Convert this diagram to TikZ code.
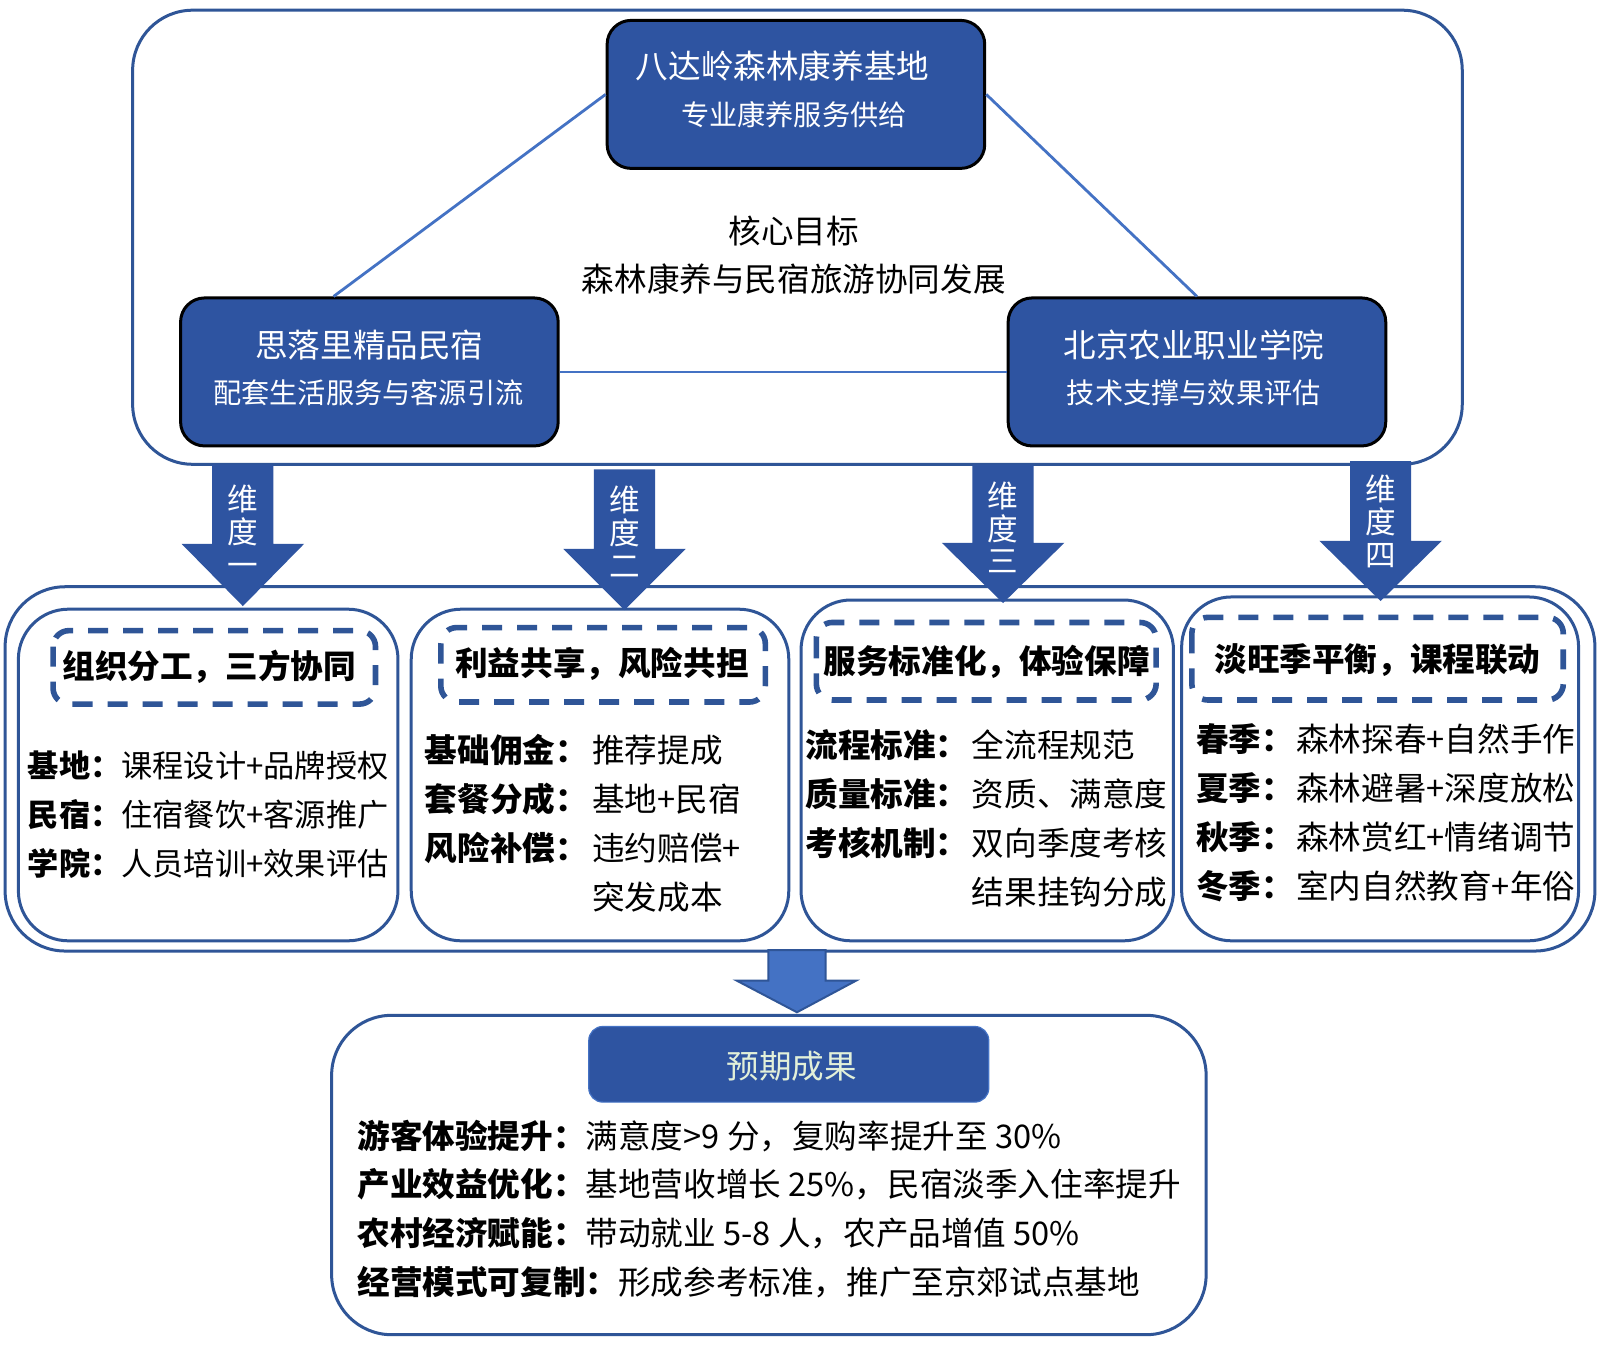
\documentclass[tikz,border=0pt]{standalone}
\usepackage{fontspec}
\setmainfont{Noto Sans CJK SC}
\definecolor{framec}{HTML}{2F5597}
\definecolor{nodec}{HTML}{2E54A1}
\definecolor{linec}{HTML}{4472C4}
\definecolor{resc}{HTML}{E2F0D9}
\begin{document}
\begin{tikzpicture}[x=0.5102pt,y=-0.5102pt,
  frame/.style={draw=framec,line width=1.5pt,rounded corners=30pt},
  innerbox/.style={draw=framec,line width=1.5pt,rounded corners=25pt},
  dashbox/.style={draw=framec,line width=2.8pt,rounded corners=8pt,dash pattern=on 10pt off 7.5pt},
  bignode/.style={draw=black,fill=nodec,line width=1.5pt,rounded corners=12pt,minimum width=188.8pt,minimum height=74pt,inner sep=0pt},
  resnode/.style={draw=linec,fill=nodec,line width=0.6pt,rounded corners=7pt,minimum width=200pt,minimum height=37.8pt,inner sep=0pt},
  conn/.style={draw=linec,line width=1.4pt},
  ttl/.style={text=white,font=\fontsize{16.3pt}{18pt}\selectfont,inner sep=0pt},
  subttl/.style={text=white,font=\fontsize{14.1pt}{16pt}\selectfont,inner sep=0pt},
  goaltxt/.style={font=\fontsize{16.3pt}{18pt}\selectfont,inner sep=0pt},
  headtxt/.style={font=\fontsize{16.3pt}{18pt}\selectfont\bfseries,inner sep=0pt},
  bodytxt/.style={font=\fontsize{16.3pt}{18pt}\selectfont,inner sep=0pt,anchor=west},
  smalltxt/.style={font=\fontsize{15.6pt}{18pt}\selectfont,inner sep=0pt,anchor=west},
  arrtxt/.style={text=white,font=\fontsize{15.3pt}{16.3pt}\selectfont,align=center,inner sep=0pt},
  blockarrow/.style={fill=nodec},
  lightarrow/.style={fill=linec,draw=framec,line width=1pt}
]
\fill[white] (0,0) rectangle (1568,1318);
\useasboundingbox (0,0) rectangle (1568,1318);

% ---------- top frame ----------
\draw[frame] (130,10) rectangle (1433,455);

\node[bignode] (base) at (780,92.5) {};
\node[ttl] (baseT) at (767,65) {八达岭森林康养基地};
\node[subttl] (baseS) at (778,112) {专业康养服务供给};

\node[bignode] (mins) at (362,364.5) {};
\node[ttl] (minsT) at (362,338) {思落里精品民宿};
\node[subttl] (minsS) at (361,385) {配套生活服务与客源引流};

\node[bignode] (bj) at (1173,364.5) {};
\node[ttl] (bjT) at (1170,338) {北京农业职业学院};
\node[subttl] (bjS) at (1170,385) {技术支撑与效果评估};

\draw[conn] (base.west) -- ([xshift=-17.9pt]mins.north);
\draw[conn] (base.east) -- (bj.north);
\draw[conn] (mins.east) -- (bj.west);

\node[goaltxt] (goal1) at (778,226) {核心目标};
\node[goaltxt] (goal2) at (778,273) {森林康养与民宿旅游协同发展};

% ---------- middle frame ----------
\draw[frame] (5,575) rectangle (1563,932);
\draw[innerbox] (18,597) rectangle (390,922);
\draw[innerbox] (403,597) rectangle (773,922);
\draw[innerbox] (785,588) rectangle (1150,922);
\draw[innerbox] (1158,585) rectangle (1547,922);

\draw[dashbox] (52,618) rectangle (368,690);
\draw[dashbox] (432,615) rectangle (750,688);
\draw[dashbox] (800,610) rectangle (1133,686);
\draw[dashbox] (1168,605) rectangle (1532,686);

\node[headtxt] (h1) at (205,653) {组织分工，三方协同};
\node[headtxt] (h2) at (590,651) {利益共享，风险共担};
\node[headtxt] (h3) at (967,649) {服务标准化，体验保障};
\node[headtxt] (h4) at (1350,647) {淡旺季平衡，课程联动};

% box 1
\node[smalltxt] (a1) at (27,750) {\textbf{基地：}课程设计+品牌授权};
\node[smalltxt] (a2) at (27,798) {\textbf{民宿：}住宿餐饮+客源推广};
\node[smalltxt] (a3) at (27,846) {\textbf{学院：}人员培训+效果评估};

% box 2
\node[bodytxt] (b1l) at (416,735) {\textbf{基础佣金：}};
\node[bodytxt] (b1v) at (580,735) {推荐提成};
\node[bodytxt] (b2l) at (416,783) {\textbf{套餐分成：}};
\node[bodytxt] (b2v) at (580,783) {基地+民宿};
\node[bodytxt] (b3l) at (416,831) {\textbf{风险补偿：}};
\node[bodytxt] (b3v) at (580,831) {违约赔偿+};
\node[bodytxt] (b4v) at (580,879) {突发成本};

% box 3
\node[bodytxt] (c1l) at (789,730) {\textbf{流程标准：}};
\node[bodytxt] (c1v) at (952,730) {全流程规范};
\node[bodytxt] (c2l) at (789,778) {\textbf{质量标准：}};
\node[bodytxt] (c2v) at (952,778) {资质、满意度};
\node[bodytxt] (c3l) at (789,826) {\textbf{考核机制：}};
\node[bodytxt] (c3v) at (952,826) {双向季度考核};
\node[bodytxt] (c4v) at (952,874) {结果挂钩分成};

% box 4
\node[bodytxt] (d1l) at (1172,724) {\textbf{春季：}};
\node[bodytxt] (d1v) at (1270,724) {森林探春+自然手作};
\node[bodytxt] (d2l) at (1172,772) {\textbf{夏季：}};
\node[bodytxt] (d2v) at (1270,772) {森林避暑+深度放松};
\node[bodytxt] (d3l) at (1172,820) {\textbf{秋季：}};
\node[bodytxt] (d3v) at (1270,820) {森林赏红+情绪调节};
\node[bodytxt] (d4l) at (1172,868) {\textbf{冬季：}};
\node[bodytxt] (d4v) at (1270,868) {室内自然教育+年俗};

% ---------- block arrows ----------
\fill[blockarrow] (208,455) -- (268,455) -- (268,533) -- (298,533) -- (238,594) -- (178,533) -- (208,533) -- cycle;
\node[arrtxt] (w1) at (238,520) {维\\度\\一};
\fill[blockarrow] (582,460) -- (642,460) -- (642,538) -- (672,538) -- (612,598) -- (552,538) -- (582,538) -- cycle;
\node[arrtxt] (w2) at (612,521) {维\\度\\二};
\fill[blockarrow] (953,455) -- (1013,455) -- (1013,532) -- (1043,532) -- (983,591) -- (923,532) -- (953,532) -- cycle;
\node[arrtxt] (w3) at (983,517) {维\\度\\三};
\fill[blockarrow] (1323,452) -- (1383,452) -- (1383,530) -- (1413,530) -- (1353,589) -- (1293,530) -- (1323,530) -- cycle;
\node[arrtxt] (w4) at (1353,511) {维\\度\\四};

\filldraw[lightarrow] (753,931) -- (809,931) -- (809,961) -- (839,961) -- (781,992) -- (722,961) -- (753,961) -- cycle;

% ---------- bottom frame ----------
\draw[frame] (325,995) rectangle (1182,1308);
\node[resnode] (res) at (773,1043) {};
\node[text=resc,font=\fontsize{16.3pt}{18pt}\selectfont,inner sep=0pt] (resT) at (776,1045) {预期成果};

\node[bodytxt] (e1) at (350,1113) {\textbf{游客体验提升：}满意度>9 分，复购率提升至 30\%};
\node[bodytxt] (e2) at (350,1161) {\textbf{产业效益优化：}基地营收增长 25\%，民宿淡季入住率提升};
\node[bodytxt] (e3) at (350,1209) {\textbf{农村经济赋能：}带动就业 5-8 人，农产品增值 50\%};
\node[bodytxt] (e4) at (350,1257) {\textbf{经营模式可复制：}形成参考标准，推广至京郊试点基地};
\end{tikzpicture}
\end{document}
